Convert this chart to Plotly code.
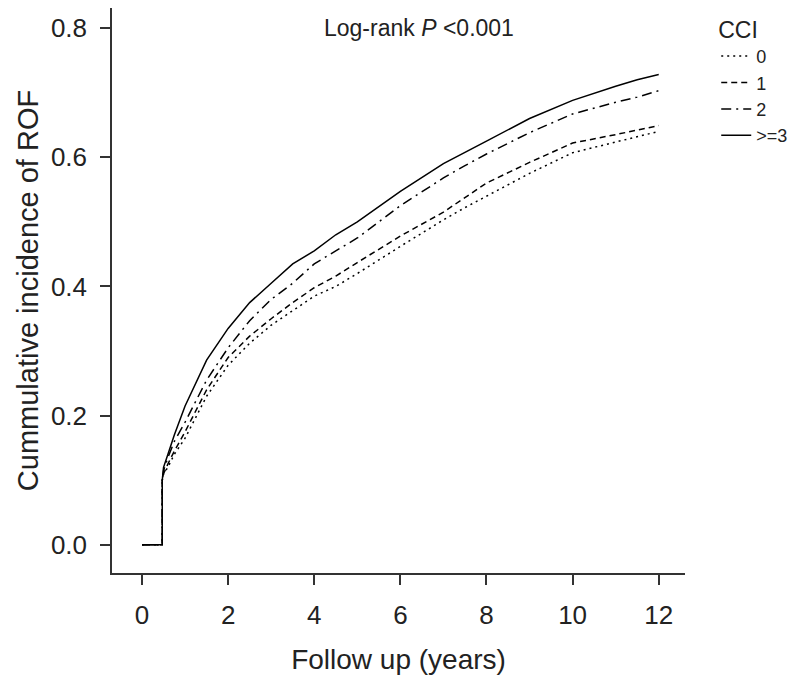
import plotly.graph_objects as go

years = [0, 0.47, 0.47, 0.5, 0.6, 0.75, 1.0, 1.5, 2.0, 2.5, 3.0, 3.5, 4.0, 4.5,
         5.0, 6.0, 7.0, 7.5, 8.0, 9.0, 10.0, 11.0, 11.5, 12.0]

# cumulative incidence of ROF by Charlson comorbidity index
cci_0 = [0, 0, 0.10, 0.11, 0.12, 0.14, 0.165, 0.23, 0.278, 0.312, 0.34, 0.363, 0.385, 0.40,
         0.42, 0.462, 0.503, 0.522, 0.54, 0.575, 0.607, 0.623, 0.632, 0.64]
cci_1 = [0, 0, 0.10, 0.11, 0.125, 0.145, 0.175, 0.24, 0.29, 0.323, 0.35, 0.375, 0.398, 0.416,
         0.437, 0.478, 0.515, 0.538, 0.56, 0.592, 0.622, 0.635, 0.642, 0.649]
cci_2 = [0, 0, 0.10, 0.115, 0.135, 0.16, 0.19, 0.255, 0.305, 0.347, 0.38, 0.405, 0.435, 0.455,
         0.475, 0.525, 0.568, 0.587, 0.605, 0.638, 0.667, 0.685, 0.693, 0.703]
cci_3 = [0, 0, 0.10, 0.12, 0.14, 0.17, 0.215, 0.286, 0.335, 0.375, 0.405, 0.435, 0.455, 0.48,
         0.50, 0.547, 0.59, 0.608, 0.625, 0.66, 0.688, 0.71, 0.72, 0.728]

group_names = ['0', '1', '2', '>=3']
dash_styles = ['2px,4px', '6px,4px', '10px,5px,2px,5px', 'solid']

fig = go.Figure()
for name, vals, dash in zip(group_names, [cci_0, cci_1, cci_2, cci_3], dash_styles):
    fig.add_trace(go.Scatter(
        x=years, y=vals, mode='lines', name=name,
        line=dict(color='black', width=1.5, dash=dash),
    ))

fig.add_annotation(
    x=6.43, y=0.80, xref='x', yref='y', showarrow=False,
    text='Log-rank <i>P</i> &lt;0.001',
    font=dict(size=23, color='#222'),
)

axis_common = dict(
    showline=True, linecolor='#333', linewidth=1.5, mirror=False,
    ticks='outside', ticklen=10, tickwidth=1.5, tickcolor='#333',
    showgrid=False, zeroline=False, automargin=False, ticklabelstandoff=8,
    tickfont=dict(size=26, color='#222'),
)

# page body adds an 8px offset, so the figure is a bit smaller than the window
fig.update_layout(
    width=792, height=671,
    paper_bgcolor='white', plot_bgcolor='white',
    font=dict(family='Liberation Sans, Arial, sans-serif', color='#222'),
    margin=dict(l=104, r=115, t=0, b=106, autoexpand=False),
    xaxis=dict(
        range=[-0.697, 12.61], tickvals=[0, 2, 4, 6, 8, 10, 12],
        title=dict(text='Follow up (years)', font=dict(size=28), standoff=20),
        **axis_common,
    ),
    yaxis=dict(
        range=[-0.0436, 0.831], tickvals=[0, 0.2, 0.4, 0.6, 0.8],
        tickformat='.1f',
        title=dict(text='Cummulative incidence of ROF', font=dict(size=29), standoff=4),
        **axis_common,
    ),
    legend=dict(
        x=1.0545, y=1.0, xanchor='left', yanchor='top',
        title=dict(text='CCI', font=dict(size=23)),
        font=dict(size=18), itemwidth=30,
        bgcolor='rgba(0,0,0,0)', tracegroupgap=0,
    ),
    showlegend=True,
)

fig.write_html("out.html")
